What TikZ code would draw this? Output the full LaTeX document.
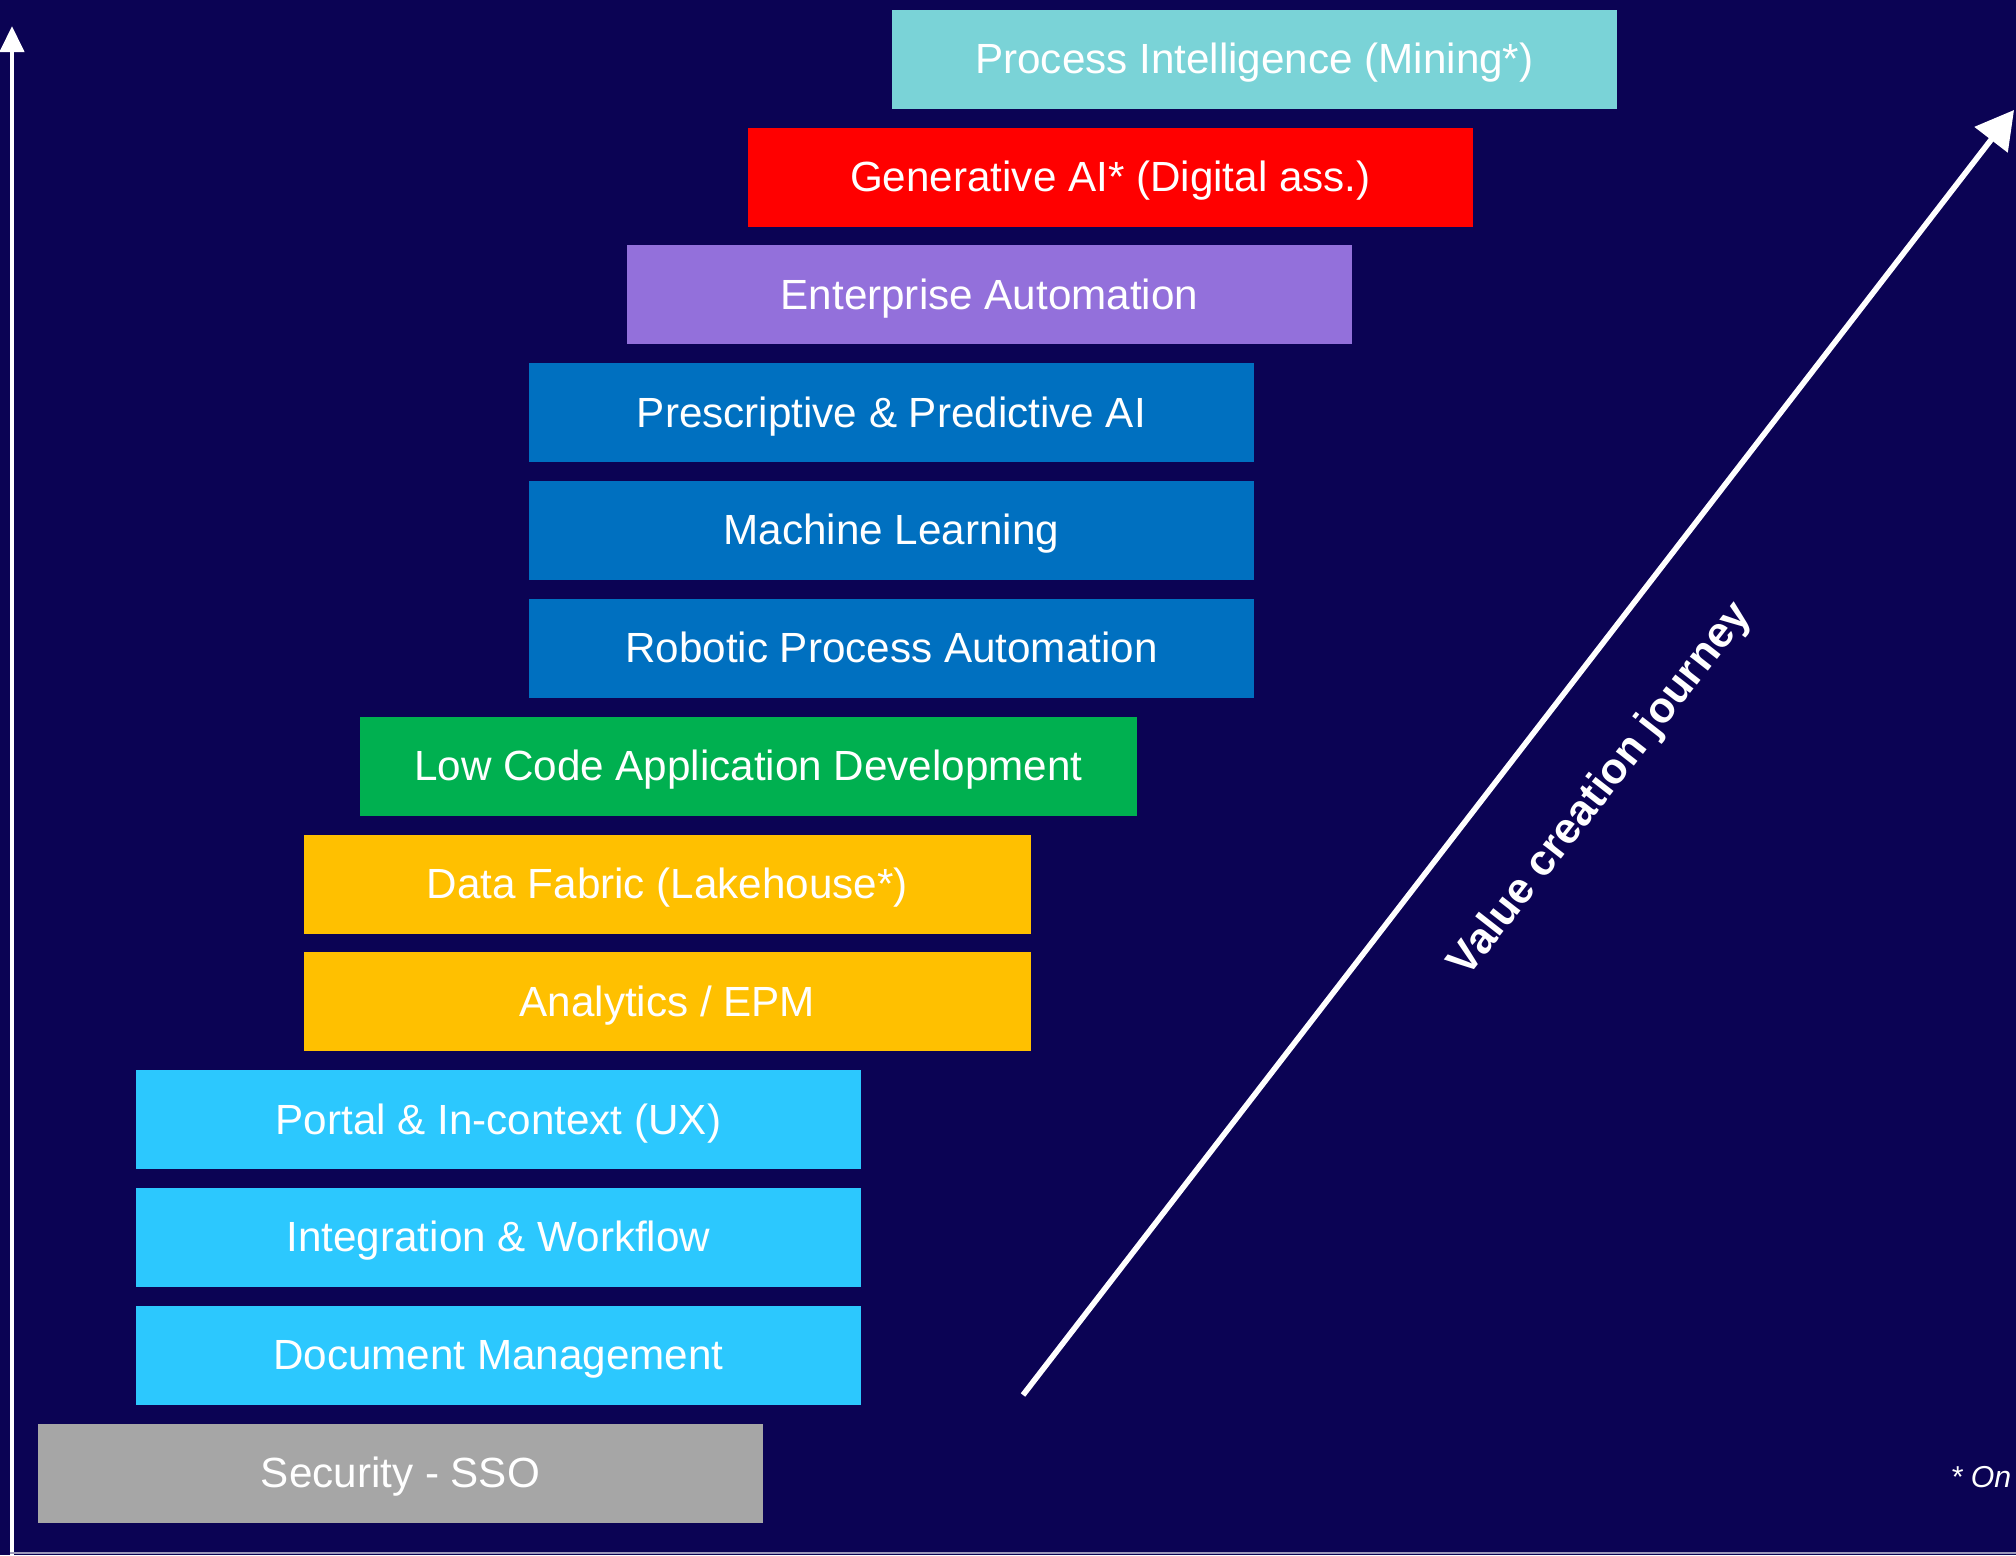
\documentclass[tikz,border=0pt]{standalone}
\usepackage{fontspec}
\setmainfont{Liberation Sans}
\usetikzlibrary{arrows.meta}
\definecolor{backnavy}{RGB}{11,3,84}
\definecolor{minecolor}{RGB}{122,211,215}
\definecolor{genaicolor}{RGB}{255,0,0}
\definecolor{automcolor}{RGB}{147,112,219}
\definecolor{aicolor}{RGB}{0,112,192}
\definecolor{lowcodecolor}{RGB}{0,176,80}
\definecolor{datacolor}{RGB}{255,192,0}
\definecolor{basecolor}{RGB}{44,200,254}
\definecolor{securecolor}{RGB}{166,166,166}
\newcommand{\boxwidth}{7.25cm}
\newcommand{\boxheight}{0.99cm}
\newcommand{\rowstep}{117.83}
\newcommand{\rowtop}[1]{\fpeval{9+#1*\rowstep}}
\newcommand{\LayerTextSize}{\fontsize{12}{14}\selectfont}
\newcommand{\JourneyTextSize}{\fontsize{12.3}{15}\selectfont}
\tikzset{layer/.style={anchor=north west,inner sep=0pt,minimum width=\boxwidth,minimum height=\boxheight,text height=0.95em,text depth=0.134em,text=white,font=\LayerTextSize}}

\begin{document}
\begin{tikzpicture}[x=0.01cm,y=-0.01cm]

% Background
\useasboundingbox (0,0) rectangle (2016,1555);
\fill[backnavy] (0,0) rectangle (2016,1555);

% Layer Nodes
\node (PI) [layer,fill=minecolor] at (891,\rowtop{0}) {Process Intelligence (Mining*)};
\node (GA) [layer,fill=genaicolor] at (747,\rowtop{1}) {Generative AI* (Digital ass.)};
\node (EA) [layer,fill=automcolor] at (626,\rowtop{2}) {Enterprise Automation};
\node (PPA) [layer,fill=aicolor] at (528,\rowtop{3}) {Prescriptive \& Predictive AI};
\node (ML) [layer,fill=aicolor] at (528,\rowtop{4}) {Machine Learning};
\node (RPA) [layer,fill=aicolor] at (528,\rowtop{5}) {Robotic Process Automation};
\node (LC) [layer,fill=lowcodecolor,minimum width=7.77cm] at (359,\rowtop{6}) {Low Code Application Development};
\node (DF) [layer,fill=datacolor,minimum width=7.27cm] at (303,\rowtop{7}) {Data Fabric (Lakehouse*)};
\node (AE) [layer,fill=datacolor,minimum width=7.27cm] at (303,\rowtop{8}) {Analytics / EPM};
\node (PX) [layer,fill=basecolor] at (135,\rowtop{9}) {Portal \& In-context (UX)};
\node (IW) [layer,fill=basecolor] at (135,\rowtop{10}) {Integration \& Workflow};
\node (DM) [layer,fill=basecolor] at (135,\rowtop{11}) {Document Management};
\node (SSO) [layer,fill=securecolor] at (37,\rowtop{12}) {Security - SSO};

% Axes
\coordinate (axisbottom) at (12,1555);
\coordinate (axistop) at (12,26);
\coordinate (axisright) at (2016,1553);
\draw[white,line width=1.3pt,-{Triangle[length=7.4pt,width=6.8pt]}] (axisbottom) -- (axistop);
\draw[white!60!backnavy,line width=0.5pt] (10,1553) -- (axisright);

% Journey arrow
\coordinate (journeystart) at (1023,1395);
\coordinate (journeyend) at (2014,110);
\draw[white,line width=1.6pt,-{Triangle[length=10.7pt,width=11.6pt]}] (journeystart) -- (journeyend);
\node (VCJ) [rotate=52,text=white,font=\bfseries\JourneyTextSize] at (1601,790) {Value creation journey};

% Footnote
\node (NOTE) [anchor=base west,inner sep=0pt,text=white,font=\itshape\fontsize{8.6}{10}\selectfont] at (1950,1487) {* On};

\end{tikzpicture}
\end{document}
